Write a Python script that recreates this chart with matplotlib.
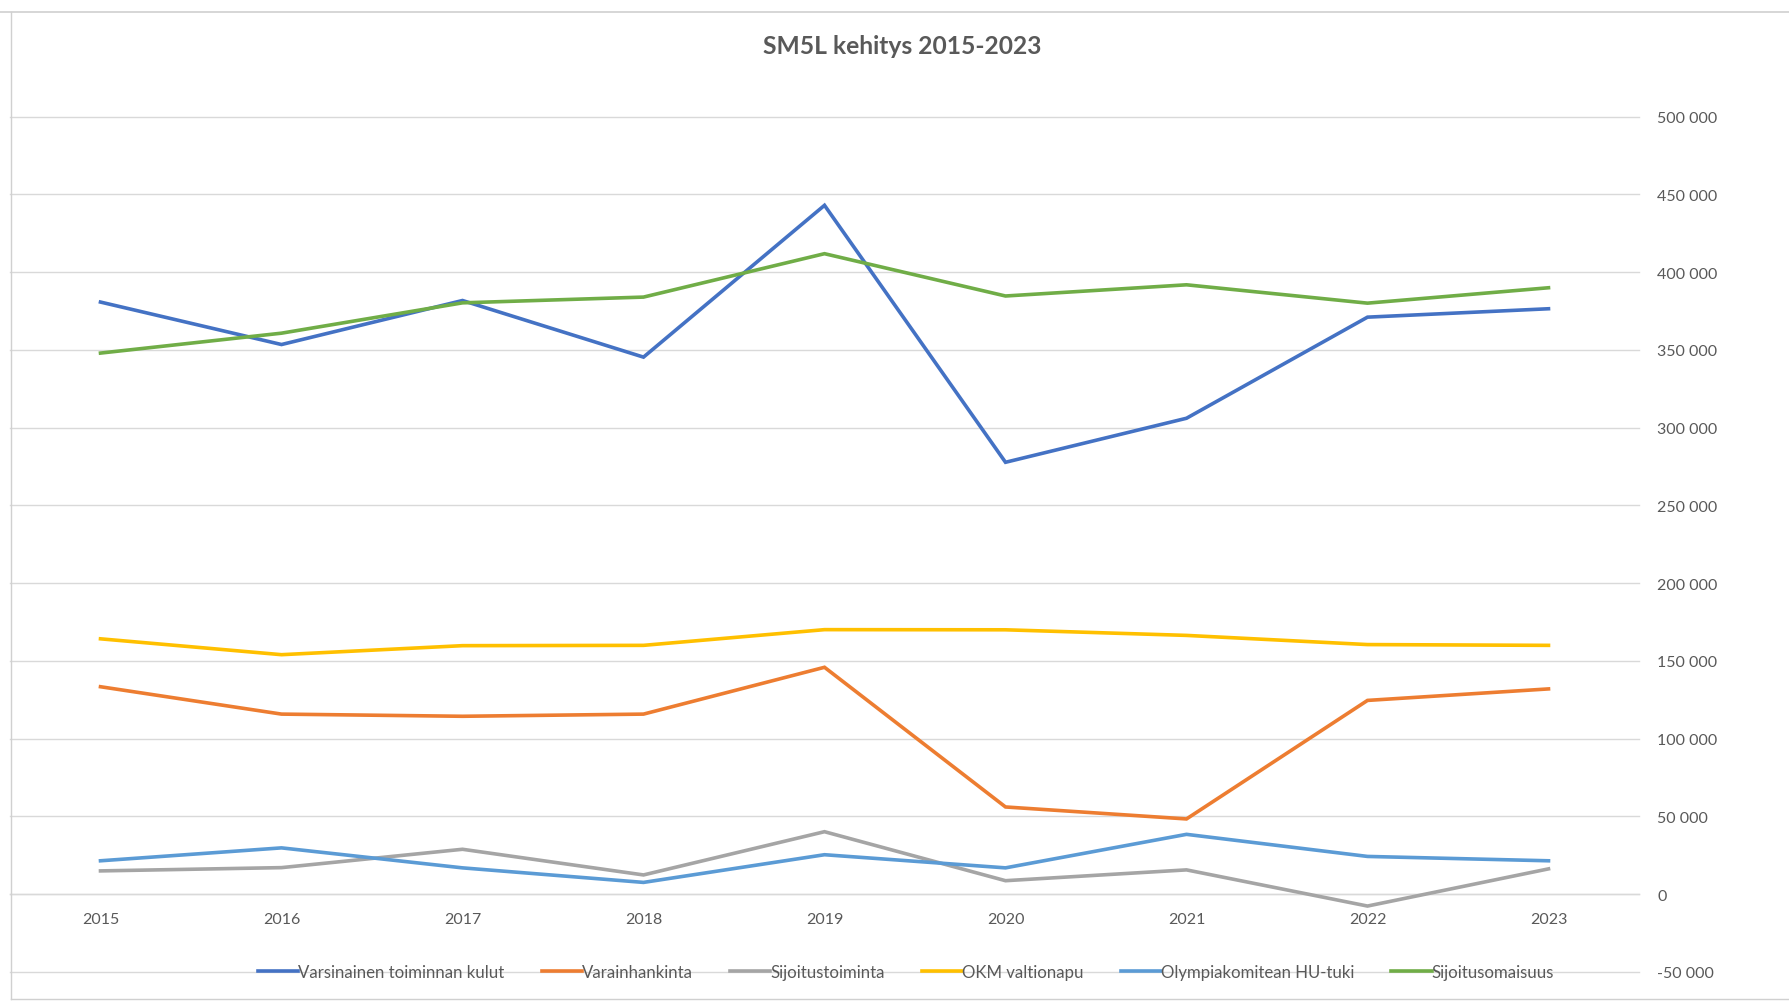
import matplotlib
matplotlib.use("Agg")
import matplotlib.pyplot as plt
from matplotlib.lines import Line2D
from matplotlib.ticker import FuncFormatter

plt.rcParams['font.family'] = ['Lato', 'DejaVu Sans']

years = ['2015', '2016', '2017', '2018', '2019', '2020', '2021', '2022', '2023']

# values
varsinainen = [380700, 353400, 381700, 345300, 442900, 277700, 306000, 371000, 376400]
varainhankinta = [133400, 115800, 114400, 115800, 145900, 56100, 48400, 124600, 132000]
sijoitustoiminta = [15000, 17100, 28900, 12400, 40200, 8700, 15650, -7600, 16300]
okm_valtionapu = [164200, 154000, 159800, 160000, 170100, 170000, 166400, 160500, 160000]
olympiakomitea = [21500, 29800, 16950, 7600, 25400, 16950, 38500, 24300, 21500]
sijoitusomaisuus = [347900, 360700, 380200, 383900, 411800, 384600, 391800, 380000, 389900]

series_names = ['Varsinainen toiminnan kulut', 'Varainhankinta', 'Sijoitustoiminta',
                'OKM valtionapu', 'Olympiakomitean HU-tuki', 'Sijoitusomaisuus']
series_colors = ['#4472C4', '#ED7D31', '#A5A5A5', '#FFC000', '#5B9BD5', '#70AD47']
all_series = [varsinainen, varainhankinta, sijoitustoiminta,
              okm_valtionapu, olympiakomitea, sijoitusomaisuus]

W, H = 1789, 1003
fig = plt.figure(figsize=(W / 100, H / 100), dpi=100)
fig.patch.set_facecolor('white')

# plot area in pixel coords of the screenshot
left, right, top, bottom = 10, 1639, 117.5, 973
ax = fig.add_axes([left / W, 1 - bottom / H, (right - left) / W, (bottom - top) / H])

x = list(range(len(years)))
for vals, name, col in zip(all_series, series_names, series_colors):
    ax.plot(x, vals, color=col, linewidth=2.6, label=name, solid_joinstyle='miter', zorder=3)

ax.set_xlim(-0.5, len(years) - 0.5)
ax.set_ylim(-50000, 500000)
ax.set_yticks(range(-50000, 500001, 50000))
ax.yaxis.set_major_formatter(FuncFormatter(lambda v, p: f"{int(v):,}".replace(',', ' ')))
ax.yaxis.tick_right()
ax.grid(axis='y', color='#D9D9D9', linewidth=1.0, zorder=0)
ax.set_axisbelow(True)
for gl in ax.get_ygridlines():
    gl.set_clip_on(False)

ax.set_xticks(x)
ax.set_xticklabels(years)

for s in ['top', 'left', 'right']:
    ax.spines[s].set_visible(False)
ax.spines['bottom'].set_position(('data', 0))
ax.spines['bottom'].set_color('#D9D9D9')
ax.spines['bottom'].set_linewidth(1.0)

ax.tick_params(axis='y', length=0, pad=13, labelsize=11.5, labelcolor='#595959')
ax.tick_params(axis='x', length=0, pad=13, labelsize=11.5, labelcolor='#595959')
for lbl in ax.get_yticklabels():
    lbl.set_horizontalalignment('left')

fig.text(902 / W, 1 - 47 / H, 'SM5L kehitys 2015-2023', ha='center', va='center',
         fontsize=17.7, fontweight='bold', color='#595959')

fig.legend(loc='center', bbox_to_anchor=(906 / W, 1 - 973 / H), ncol=6, frameon=False,
           fontsize=12.1, handlelength=2.4, handletextpad=0.0, columnspacing=2.2,
           labelcolor='#595959')

# spreadsheet borders around the chart object
edge = '#D0D0D0'
fig.add_artist(Line2D([0, 1], [1 - 13 / H, 1 - 13 / H], color=edge, linewidth=1.2))
fig.add_artist(Line2D([11 / W, 11 / W], [1 - 13 / H, 1 - 1000 / H], color=edge, linewidth=1.0))
fig.add_artist(Line2D([11 / W, 1], [1 - 1000 / H, 1 - 1000 / H], color=edge, linewidth=1.0))

fig.savefig('out.png', dpi=100, facecolor='white')
